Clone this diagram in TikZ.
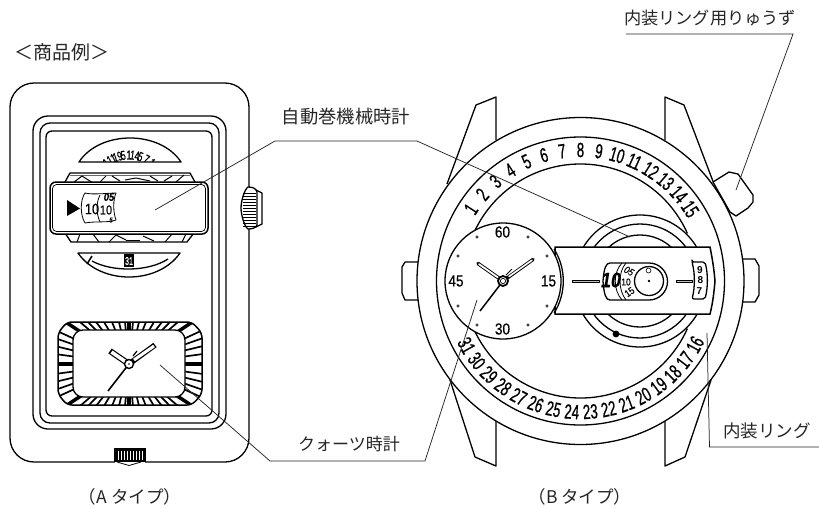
\documentclass[tikz,border=0pt]{standalone}
\usepackage{fontspec}
\setmainfont{Liberation Sans}
\newfontfamily\cjk{Noto Sans CJK JP}
\newfontfamily\cond[FakeStretch=0.65,FakeBold=0.7]{Liberation Sans}
\newfontfamily\condm[FakeStretch=0.85,FakeBold=0.3]{Liberation Sans}
\newcommand{\fs}[1]{\fontsize{#1}{#1}\selectfont}
\newcommand{\arcdraw}[6][]{\draw[#1] ({#2+#4*cos(#5)},{#3+#4*sin(#5)}) arc[start angle=#5,end angle=#6,radius=#4];}
\tikzset{
  ln/.style={line width=1.3pt,black,line join=round},
  thin ln/.style={line width=0.8pt,black,line join=round},
  leader/.style={line width=0.75pt,black!85},
  lab/.style={inner sep=0pt,text=black!85,font=\cjk\fs{#1}},
  lab/.default=17.5,
  num/.style={inner sep=0pt,font=\cond\fs{20.5}},
  dialnum/.style={inner sep=0pt,font=\condm\fs{16}},
  hole/.style={line width=.6pt,fill=white}
}
\begin{document}
\begin{tikzpicture}[x=1pt,y=-1pt]
\useasboundingbox (0,0) rectangle (819,507);
\fill[white] (0,0) rectangle (819,507);

%%% ---------- Type A ----------
% case
\draw[ln,fill=white,rounded corners=24pt] (10,83) rectangle (249,462);
% crowns
\draw[ln,fill=white] (256,190) -- (262,193) -- (262,224) -- (256,227) -- cycle;
\draw[ln,fill=white] (248,187) .. controls (252,187) and (256,188) .. (257,192) -- (257,225) .. controls (256,228) and (252,229) .. (248,229) .. controls (244,226) and (241,214) .. (241,208) .. controls (241,202) and (244,190) .. (248,187) -- cycle;
\foreach \y in {193,196,...,226} \draw[line width=.7pt] (243,\y) -- (256,\y);
\fill[black] (114,448) rectangle (146,462);
\foreach \x in {118,121,...,143} \draw[white,line width=.8pt] (\x,451) -- (\x,460);
\draw[white,line width=1.6pt] (115,462.4) -- (145,462.4);
\draw[thin ln] (115,462) -- (115,458) (145,462) -- (145,458);
\draw[thin ln,fill=white] (117,462) -- (129,465.5) -- (141,462);
% frames
\draw[ln,rounded corners=15pt] (33,116) rectangle (226,429);
\draw[ln,rounded corners=10pt] (40,123) rectangle (219,423);
\draw[ln,rounded corners=6pt] (46,131) rectangle (212,416);
% upper arc
\draw[ln] (79,162) .. controls (100,130) and (160,130) .. (181,162) -- cycle;
\begin{scope}
\clip (79,161.5) -- (181,161.5) -- (181,149) -- (79,149) -- cycle;
\foreach \t/\s in {-128/1,-118/11,-108/19,-99/5,-90/1,-81/14,-72/5,-62/7,-52/1}
  \node[inner sep=0pt,font=\cond\fs{13}] (u\t) at ({129+37*cos(\t)},{192+37*sin(\t)}) [rotate={-\t-90}] {\s};
\end{scope}
% mechanism band top and bottom
\draw[ln,fill=white] (65,182) -- (70,173) -- (190,173) -- (195,182);
\draw[line width=.6pt,black!60] (70,175) -- (190,175);
\foreach \a/\b/\c/\d in {74/182/82/176,82/176/93/183,100/182/106/176,112/176/120/181,125/180/136/178,136/178/150/181,150/176/158/181,164/181/172/176,176/182/184/175}
  \draw[line width=1pt] (\a,\b) -- (\c,\d);
\draw[ln,fill=white] (65,233) -- (71,242) -- (187,242) -- (194,233);
\foreach \a/\b/\c/\d in {80/234/77/242,93/234/99/242,109/242/116/235,116/235/126/240,126/240/140/240,143/236/154/241,172/234/165/242,186/234/182/242}
  \draw[line width=1pt] (\a,\b) -- (\c,\d);
% lower arc
\draw[ln] (78,253) .. controls (100,285) and (158,285) .. (180,253) -- cycle;
\draw[ln] (92,261) .. controls (112,272) and (148,272) .. (168,259);
\draw[line width=1.5pt] (87,264) -- (92,256);
\fill[black] (124,254) rectangle (134,267);
\node[inner sep=0pt,text=white,font=\cond\fs{11}] (aday) at (129,261) {31};
% window
\draw[line width=1.5pt,fill=white,rounded corners=6pt] (50,182) rectangle (208,234);
\draw[line width=.7pt,rounded corners=4pt] (52.5,184.5) rectangle (205.5,231.5);
\fill[black] (67,200) -- (80,208.5) -- (67,216) -- cycle;
\draw[thin ln] (85,193) .. controls (92,195) and (110,193) .. (116,193) .. controls (113,200) and (113,212) .. (116,220) .. controls (108,223) and (95,221) .. (85,223) .. controls (80,215) and (80,200) .. (85,193) -- cycle;
\draw[thin ln] (100,195) .. controls (96,203) and (96,213) .. (100,222);
\node[inner sep=0pt,font=\condm\fs{15}] (aten) at (92,209) {10};
\node[inner sep=0pt,font=\condm\fs{13}] (atenb) at (106,210) {10};
\node[inner sep=0pt,font=\condm\itshape\bfseries\fs{11}] (afive) at (109,197) {05};
\node[inner sep=0pt,font=\condm\itshape\bfseries\fs{7}] (afift) at (111,220) {5};
% quartz window
\fill[white,rounded corners=5pt] (67,322) -- (192,322) -- (202,333) -- (202,394) -- (192,405) -- (67,405) -- (58,394) -- (58,333) -- cycle;
\begin{scope}
\clip[rounded corners=5pt] (67,322) -- (192,322) -- (202,333) -- (202,394) -- (192,405) -- (67,405) -- (58,394) -- (58,333) -- cycle;
\foreach \x in {80,88,96,104,112,119,125,133,139,146,154,162,170,178}{
  \draw[line width=1.7pt] (129,364) -- ({129+(\x-129)*2},{364-84});
  \draw[line width=1.7pt] (129,364) -- ({129+(\x-129)*2},{364+84});
}
\foreach \y in {330,338,346,354,374,382,390,398}{
  \draw[line width=1.7pt] (129,364) -- (229,{364+(\y-364)*1.35});
  \draw[line width=1.7pt] (129,364) -- (29,{364+(\y-364)*1.35});
}
\draw[line width=4pt] (29,364) -- (229,364) (129,264) -- (129,464);
\draw[line width=3.5pt] (40,305) -- (218,423) (40,423) -- (218,305);
\end{scope}
\draw[line width=1.5pt,rounded corners=5pt] (67,322) -- (192,322) -- (202,333) -- (202,394) -- (192,405) -- (67,405) -- (58,394) -- (58,333) -- cycle;
\draw[ln,fill=white,rounded corners=10pt] (73,330) rectangle (185,397);
% hands A
\draw[line width=6pt] (129,364) -- (110,351);
\draw[line width=3.6pt,white] (126,362) -- (111.5,352);
\draw[line width=5.4pt] (129,364) -- (155,345);
\draw[line width=3pt,white] (134,360) -- (154,346);
\draw[line width=1.2pt] (133,356) -- (137,351);
\draw[line width=1.6pt] (129,364) -- (108,391);
\draw[line width=1.4pt,fill=white] (129,364) circle[radius=4.5];
\fill[black] (129,364) circle[radius=.8];

%%% ---------- Type B ----------
% lugs
\draw[ln] (496,140) -- (496,97) -- (476,105) -- (447,184);
\draw[ln] (665,140) -- (665,97) -- (684,105) -- (714,184);
\draw[ln] (496,420) -- (496,466) -- (475,457) -- (450,380);
\draw[ln] (665,420) -- (665,466) -- (685,457) -- (711,380);
% crown and pushers
\draw[ln,fill=white] (713,182) -- (729,172) -- (738,174) -- (753,195) -- (753,202) -- (748,208) -- (736,216) -- (730,212) -- cycle;
\draw[ln,fill=white] (740,259) -- (755,259) -- (759,266) -- (759,295) -- (755,302) -- (740,302) -- cycle;
\draw[ln,fill=white] (420,262) -- (405,262) -- (402,267) -- (402,293) -- (405,300) -- (420,300) -- cycle;
% rings
\draw[ln,fill=white] (580.5,281) circle[radius=163.5];
\draw[ln] (580.5,281) circle[radius=144];
\arcdraw[ln]{580.5}{281}{117}{-24}{-336}
% date numbers
\foreach \n in {1,...,15}{
  \pgfmathsetmacro{\t}{-90+(\n-8)*8.1}
  \node[num,rotate={-\t-90}] (d\n) at ({580.5+131*cos(\t)},{281+131*sin(\t)}) {\n};
}
\foreach \n in {16,...,31}{
  \pgfmathsetmacro{\t}{29+(\n-16)*8.1}
  \node[num,rotate={90-\t}] (d\n) at ({580.5+131*cos(\t)},{281+131*sin(\t)}) {\n};
}
% movement arcs
\draw[ln] (640,281) circle[radius=66];
\draw[ln] (640,281) circle[radius=57];
\draw[ln] (640,281) circle[radius=46];
\fill[black] (616,334) circle[radius=3.4];
% bar
\draw[line width=1.5pt,fill=white] (555,247) -- (710,247) .. controls (713,262) and (714,270) .. (715,281) .. controls (714,292) and (713,302) .. (710,314) -- (555,314) -- cycle;
\draw[thin ln,fill=black!25] (572,280) rectangle (599,282.6);
\draw[thin ln,fill=black!25] (676,280) rectangle (692,282.6);
% big date window
\draw[ln,fill=white] (649,263) arc[start angle=-90,end angle=90,radius=18.5] -- (610,300) .. controls (606,300) and (604,295) .. (603,281) .. controls (604,268) and (606,263) .. (610,263) -- cycle;
\draw[ln] (649,281) circle[radius=14.5];
\draw[thin ln] (622,263) .. controls (613,272) and (613,290) .. (622,300);
\draw[thin ln] (626,300) .. controls (618,290) and (618,272) .. (626,263);
\fill[black] (649,281) circle[radius=1.3];
\draw[line width=.6pt] (648.5,270.5) circle[radius=2.5];
\node[inner sep=0pt,font=\condm\itshape\bfseries\fs{21}] (bten) at (611,280) {10};
\node[inner sep=0pt,rotate=-30,font=\condm\itshape\fs{10}] (m05) at (629,271) {05};
\node[inner sep=0pt,font=\condm\fs{10}] (m10) at (626,282) {10};
\node[inner sep=0pt,rotate=35,font=\condm\fs{10}] (m15) at (629.5,292) {15};
% small window
\draw[ln,fill=white,rounded corners=2pt] (692,262) -- (705,262) .. controls (708,274) and (708,287) .. (705,299) -- (692,299) .. controls (695,287) and (695,274) .. (692,262) -- cycle;
\node[inner sep=0pt,font=\bfseries\fs{10}] (h9) at (700,270) {9};
\node[inner sep=0pt,font=\bfseries\fs{10}] (h8) at (700.5,280.5) {8};
\node[inner sep=0pt,font=\bfseries\fs{10}] (h7) at (699.5,291) {7};
% sub dial
\arcdraw[line width=1.3pt]{503}{281}{60.3}{-32}{32}
\draw[ln,fill=white] (503,281) circle[radius=58];
\foreach \p/\q in {458/256,547/256,458/306,547/306,477/325,528/325,477/237,528/237}
  \draw[line width=.6pt] (\p,\q) circle[radius=1.2];
\node[dialnum] (s60) at (502.5,232) {60};
\node[dialnum] (s30) at (502.5,329) {30};
\node[dialnum] (s45) at (456,281) {45};
\node[dialnum] (s15) at (548.5,281) {15};
% hands B
\draw[line width=3.6pt,line cap=round] (503,281) -- (478,263.5);
\draw[line width=1.8pt,white,line cap=round] (498,277.5) -- (479,264.2);
\draw[line width=3.4pt,line cap=round] (503,281) -- (533,259.5);
\draw[line width=1.6pt,white,line cap=round] (509,276.5) -- (532,260.2);
\draw[line width=1pt] (506,275) -- (512,269);
\draw[line width=1.5pt] (503,281) -- (480,311);
\draw[line width=1.8pt,fill=white] (503,281) circle[radius=5];
\draw[line width=.7pt] (503,281) circle[radius=2.6];

%%% ---------- labels and leaders ----------
\node[lab=19] (title) at (62,52) {＜商品例＞};
\node[lab=17.5] (ta) at (130,497) {（A タイプ）};
\node[lab=17.5] (tb) at (580,497) {（B タイプ）};
\node[lab=18.3] (lauto) at (346,117) {自動巻機械時計};
\node[lab=17] (lquartz) at (349,444) {クォーツ時計};
\node[lab=17.5] (lring) at (767,431) {内装リング};
\node[lab=17.2] (lcrown) at (710,18) {内装リング用りゅうず};
\coordinate (a1) at (155,210); \coordinate (a2) at (275,141);
\coordinate (a3) at (417,141); \coordinate (a4) at (630,237);
\coordinate (q1) at (160,365); \coordinate (q2) at (270,461);
\coordinate (q3) at (425,461); \coordinate (q4) at (477,300);
\coordinate (r1) at (707,333); \coordinate (r2) at (709.5,447); \coordinate (r3) at (819,447);
\coordinate (c1) at (736,190); \coordinate (c2) at (793,34); \coordinate (c3) at (626,34);
\draw[leader] (a1) -- (a2) -- (a3) -- (a4);
\draw[leader] (q1) -- (q2) -- (q3) -- (q4);
\draw[leader] (r1) -- (r2) -- (r3);
\draw[leader] (c1) -- (c2) -- (c3);
\end{tikzpicture}
\end{document}
